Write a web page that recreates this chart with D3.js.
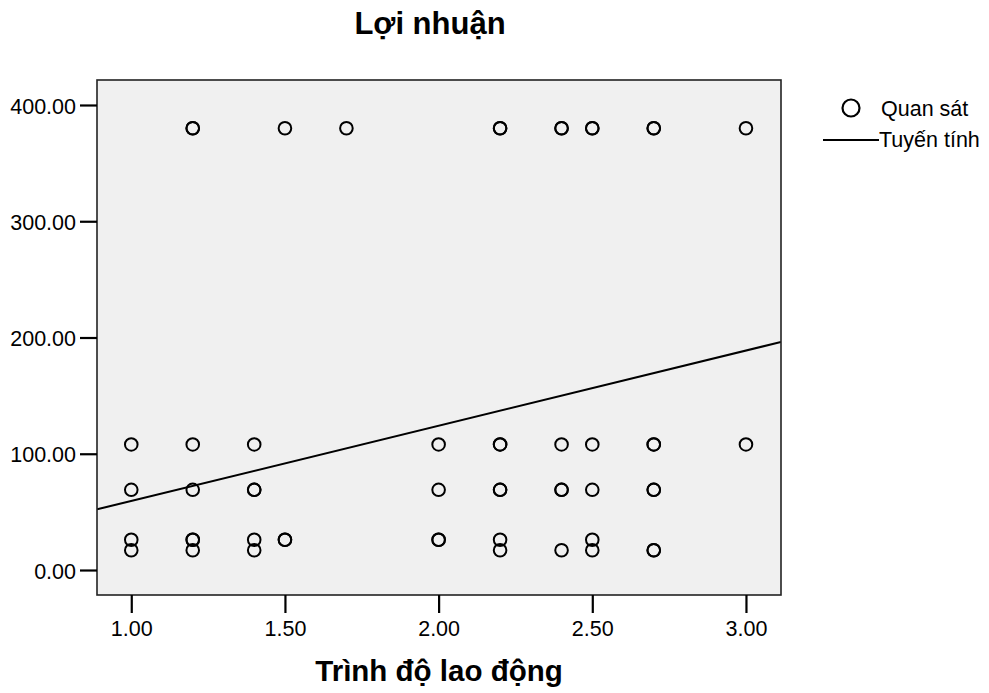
<!DOCTYPE html>
<html>
<head>
<meta charset="utf-8">
<script src="https://cdn.jsdelivr.net/npm/d3@7"></script>
<style>
  body { margin: 0; background: #ffffff; }
  svg { display: block; font-family: "Liberation Sans", Arial, sans-serif; }
</style>
</head>
<body>
<svg id="chart" width="989" height="693"></svg>
<script>
// ---- data ----
const chartTitle = "Lợi nhuận";
const xTitle = "Trình độ lao động";
const legendLabels = ["Quan sát", "Tuyến tính"];

const xTicks = [1.0, 1.5, 2.0, 2.5, 3.0];
const yTicks = [0, 100, 200, 300, 400];

// observations (x = Trình độ lao động, y = Lợi nhuận); repeated pairs are overlapping cases
const obsX = [
  1.2, 1.2, 1.5, 1.7, 2.2, 2.2, 2.4, 2.4, 2.5, 2.5, 2.7, 2.7, 3.0,
  1.0, 1.2, 1.4, 2.0, 2.2, 2.2, 2.4, 2.5, 2.7, 2.7, 3.0,
  1.0, 1.2, 1.4, 1.4, 2.0, 2.2, 2.2, 2.4, 2.4, 2.5, 2.7, 2.7,
  1.0, 1.2, 1.2, 1.4, 1.5, 1.5, 2.0, 2.0, 2.2, 2.5,
  1.0, 1.2, 1.4, 2.2, 2.4, 2.5, 2.7, 2.7
];
const obsY = [
  380, 380, 380, 380, 380, 380, 380, 380, 380, 380, 380, 380, 380,
  108, 108, 108, 108, 108, 108, 108, 108, 108, 108, 108,
  69, 69, 69, 69, 69, 69, 69, 69, 69, 69, 69, 69,
  26, 26, 26, 26, 26, 26, 26, 26, 26, 26,
  17, 17, 17, 17, 17, 17, 17, 17
];

// linear fit line (intercept, slope)
const fitCoef = [-5.3, 64.7];

// axis extents
const xDomain = [0.8885, 3.114];
const yDomain = [-21.5, 421.5];

// ---- layout ----
const plot = { left: 97, right: 781, top: 80, bottom: 595 };

const svg = d3.select("#chart");

const x = d3.scaleLinear().domain(xDomain).range([plot.left, plot.right]);
const y = d3.scaleLinear().domain(yDomain).range([plot.bottom, plot.top]);

// plot background
svg.append("rect")
  .attr("x", plot.left).attr("y", plot.top)
  .attr("width", plot.right - plot.left).attr("height", plot.bottom - plot.top)
  .attr("fill", "#f0f0f0");

// clip for the line
svg.append("clipPath").attr("id", "clip")
  .append("rect")
  .attr("x", plot.left).attr("y", plot.top)
  .attr("width", plot.right - plot.left).attr("height", plot.bottom - plot.top);

// points
svg.append("g")
  .selectAll("circle")
  .data(obsX.map((v, i) => [v, obsY[i]]))
  .join("circle")
  .attr("cx", d => x(d[0]))
  .attr("cy", d => y(d[1]))
  .attr("r", 6.3)
  .attr("fill", "none")
  .attr("stroke", "#000")
  .attr("stroke-width", 2);

// fit line
svg.append("line")
  .attr("clip-path", "url(#clip)")
  .attr("x1", x(xDomain[0])).attr("y1", y(fitCoef[0] + fitCoef[1] * xDomain[0]))
  .attr("x2", x(xDomain[1])).attr("y2", y(fitCoef[0] + fitCoef[1] * xDomain[1]))
  .attr("stroke", "#000").attr("stroke-width", 2);

// frame
svg.append("rect")
  .attr("x", plot.left).attr("y", plot.top)
  .attr("width", plot.right - plot.left).attr("height", plot.bottom - plot.top)
  .attr("fill", "none").attr("stroke", "#222").attr("stroke-width", 1.6);

// y axis
const yAxis = svg.append("g")
  .attr("transform", `translate(${plot.left},0)`)
  .call(d3.axisLeft(y).tickValues(yTicks).tickFormat(d3.format(".2f")).tickSize(17).tickPadding(4));
yAxis.select(".domain").remove();
yAxis.selectAll(".tick line").attr("stroke", "#000").attr("stroke-width", 2.2);
yAxis.selectAll(".tick text")
  .attr("font-size", 21.5).attr("fill", "#000").attr("dy", "0.38em")
  .attr("font-family", "'Liberation Sans', Arial, sans-serif");

// x axis
const xAxis = svg.append("g")
  .attr("transform", `translate(0,${plot.bottom})`)
  .call(d3.axisBottom(x).tickValues(xTicks).tickFormat(d3.format(".2f")).tickSize(18).tickPadding(8));
xAxis.select(".domain").remove();
xAxis.selectAll(".tick line").attr("stroke", "#000").attr("stroke-width", 2.2);
xAxis.selectAll(".tick text")
  .attr("font-size", 21.5).attr("fill", "#000")
  .attr("font-family", "'Liberation Sans', Arial, sans-serif");

// titles
svg.append("text")
  .attr("x", 430).attr("y", 34)
  .attr("text-anchor", "middle")
  .attr("font-size", 31).attr("font-weight", "bold")
  .text(chartTitle);

svg.append("text")
  .attr("x", (plot.left + plot.right) / 2).attr("y", 681)
  .attr("text-anchor", "middle")
  .attr("font-size", 29.5).attr("font-weight", "bold")
  .text(xTitle);

// legend
const lg = svg.append("g");
lg.append("circle")
  .attr("cx", 851).attr("cy", 108).attr("r", 8.5)
  .attr("fill", "none").attr("stroke", "#000").attr("stroke-width", 2.2);
lg.append("text").attr("x", 881).attr("y", 116).attr("font-size", 21.5).text(legendLabels[0]);
lg.append("line")
  .attr("x1", 823).attr("x2", 879).attr("y1", 140).attr("y2", 140)
  .attr("stroke", "#000").attr("stroke-width", 2);
lg.append("text").attr("x", 879).attr("y", 147).attr("font-size", 21.5).text(legendLabels[1]);
</script>
</body>
</html>
